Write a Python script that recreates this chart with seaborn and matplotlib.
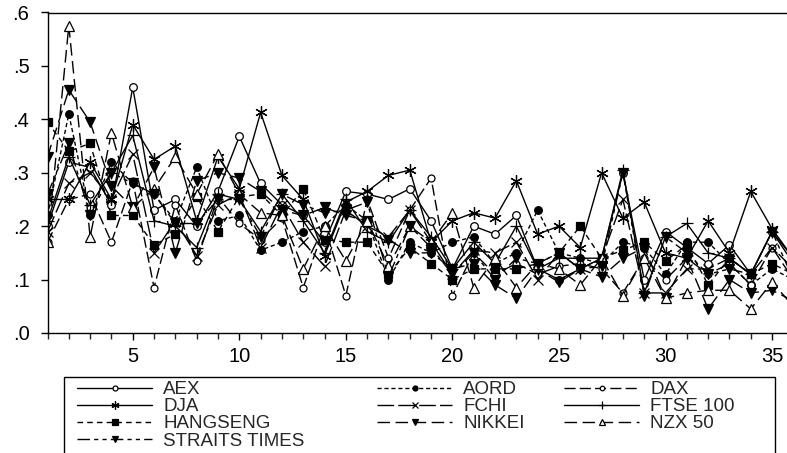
import matplotlib
matplotlib.use("Agg")
import matplotlib.pyplot as plt
import matplotlib.patches as mpatches
from matplotlib.ticker import MultipleLocator, FuncFormatter
import seaborn as sns

# periods 1..36
t = list(range(1, 37))

aex = [.20, .32, .31, .24, .46, .23, .25, .20, .265, .368, .28, .24, .22, .17, .265, .26, .25, .27,
       .21, .12, .20, .185, .22, .12, .10, .12, .14, .30, .10, .19, .16, .13, .165, .11, .19, .14]
aord = [.22, .41, .22, .32, .28, .26, .21, .31, .21, .22, .155, .17, .19, .20, .24, .21, .10, .17,
        .15, .17, .18, .13, .15, .23, .15, .14, .13, .17, .16, .11, .17, .17, .13, .09, .12, .10]
dax = [.17, .25, .26, .17, .285, .085, .24, .135, .255, .205, .175, .215, .085, .20, .07, .25, .14, .23,
       .29, .07, .15, .11, .13, .11, .125, .13, .12, .075, .14, .10, .14, .11, .13, .09, .16, .10]
dja = [.25, .25, .32, .25, .39, .325, .35, .21, .33, .27, .413, .295, .25, .145, .245, .265, .295, .305,
       .17, .21, .225, .215, .285, .185, .20, .16, .30, .215, .245, .15, .14, .21, .15, .265, .195, .14]
fchi = [.19, .28, .30, .25, .335, .15, .21, .145, .24, .26, .16, .24, .17, .125, .23, .20, .18, .23,
        .17, .11, .155, .15, .17, .10, .15, .12, .14, .25, .075, .075, .12, .12, .14, .11, .16, .12]
ftse = [.21, .33, .24, .30, .37, .21, .20, .16, .26, .25, .19, .26, .21, .15, .25, .19, .17, .23,
        .18, .12, .17, .13, .20, .12, .14, .14, .14, .305, .075, .18, .205, .15, .14, .11, .19, .13]
hangseng = [.395, .34, .355, .22, .22, .165, .185, .255, .19, .255, .26, .22, .27, .175, .17, .17, .11, .16,
            .13, .10, .12, .12, .12, .13, .15, .20, .14, .155, .17, .135, .165, .09, .14, .11, .13, .11]
nikkei = [.33, .455, .395, .275, .235, .31, .15, .285, .30, .29, .265, .23, .22, .235, .22, .21, .175, .15,
          .15, .12, .13, .09, .065, .12, .095, .12, .105, .14, .16, .065, .14, .045, .10, .075, .08, .06]
nzx = [.17, .575, .18, .375, .235, .27, .33, .26, .335, .26, .225, .22, .12, .20, .135, .21, .125, .20,
       .17, .225, .085, .14, .085, .13, .12, .09, .14, .07, .14, .065, .075, .08, .08, .045, .095, .05]
straits = [.26, .355, .22, .30, .28, .26, .205, .205, .25, .25, .18, .26, .24, .225, .23, .245, .105, .20,
           .16, .11, .15, .10, .14, .13, .15, .12, .125, .30, .07, .18, .15, .11, .12, .11, .19, .10]

names = ["AEX", "AORD", "DAX", "DJA", "FCHI", "FTSE 100", "HANGSENG", "NIKKEI", "NZX 50", "STRAITS TIMES"]
values = [aex, aord, dax, dja, fchi, ftse, hangseng, nikkei, nzx, straits]

# line style, marker, marker face, marker size
styles = {
    "AEX": ("-", "o", "white", 5.5),
    "AORD": ((0, (3, 2)), "o", "black", 5.5),
    "DAX": ((0, (8, 3)), "o", "white", 5),
    "DJA": ("-", (6, 2, 0), "black", 9),
    "FCHI": ((0, (12, 3)), "x", "black", 6.5),
    "FTSE 100": ("-", "+", "black", 9),
    "HANGSENG": ((0, (4, 3)), "s", "black", 6),
    "NIKKEI": ((0, (9, 4)), "v", "black", 7.5),
    "NZX 50": ((0, (9, 4)), "^", "white", 7.5),
    "STRAITS TIMES": ((0, (9, 3, 3, 3, 3, 3)), "v", "black", 7.5),
}

sns.set_style("ticks")
plt.rcParams["font.family"] = ["Liberation Sans", "DejaVu Sans"]

fig = plt.figure(figsize=(7.87, 4.53), dpi=100)
ax = fig.add_axes([47.5 / 787, 1 - 333 / 453, 1 - 47.5 / 787, (333 - 12.5) / 453])

for name, vals in zip(names, values):
    ls, mk, fc, ms = styles[name]
    sns.lineplot(x=t, y=vals, ax=ax, color="black", linewidth=1.0, linestyle=ls,
                 marker=mk, markersize=ms, markerfacecolor=fc, markeredgecolor="black",
                 markeredgewidth=0.9, label=name, estimator=None)

if ax.get_legend() is not None:
    ax.get_legend().remove()

ax.set_xlim(1, 35.7)
ax.set_ylim(0, 0.6)
ax.xaxis.set_major_locator(MultipleLocator(5))
ax.xaxis.set_minor_locator(MultipleLocator(1))
ax.yaxis.set_major_locator(MultipleLocator(0.1))
ax.yaxis.set_major_formatter(FuncFormatter(lambda v, p: f"{v:.1f}".lstrip("0")))
ax.tick_params(axis="both", which="major", direction="out", length=5, width=1,
               labelsize=14.5, colors="black")
ax.tick_params(axis="y", which="major", pad=8)
ax.tick_params(axis="x", which="major", pad=5)
ax.tick_params(axis="x", which="minor", direction="out", length=4, width=1)
ax.set_xlabel("")
ax.set_ylabel("")
for side in ["left", "bottom", "top"]:
    ax.spines[side].set_visible(True)
    ax.spines[side].set_color("black")
    ax.spines[side].set_linewidth(1.0)
ax.spines["right"].set_visible(False)

# legend: box with three columns, filled row by row
handles, labels = ax.get_legend_handles_labels()
lookup = dict(zip(labels, handles))
cols = [["AEX", "DJA", "HANGSENG", "STRAITS TIMES"],
        ["AORD", "FCHI", "NIKKEI"],
        ["DAX", "FTSE 100", "NZX 50"]]
col_x = [77, 377, 564]
for xs, col in zip(col_x, cols):
    fig.legend([lookup[c] for c in col], col, loc="upper left",
               bbox_to_anchor=(xs / 787, 1 - 381 / 453), bbox_transform=fig.transFigure,
               frameon=False, fontsize=13.5, handlelength=4.0, handletextpad=0.6,
               labelspacing=0.0, borderpad=0, borderaxespad=0, markerscale=0.65)

fig.patches.append(mpatches.Rectangle((64 / 787, -0.05), (775 - 64) / 787, 1 - 377 / 453 + 0.05,
                                      transform=fig.transFigure, fill=False,
                                      edgecolor="black", linewidth=1.0))

fig.savefig("out.png", dpi=100)
